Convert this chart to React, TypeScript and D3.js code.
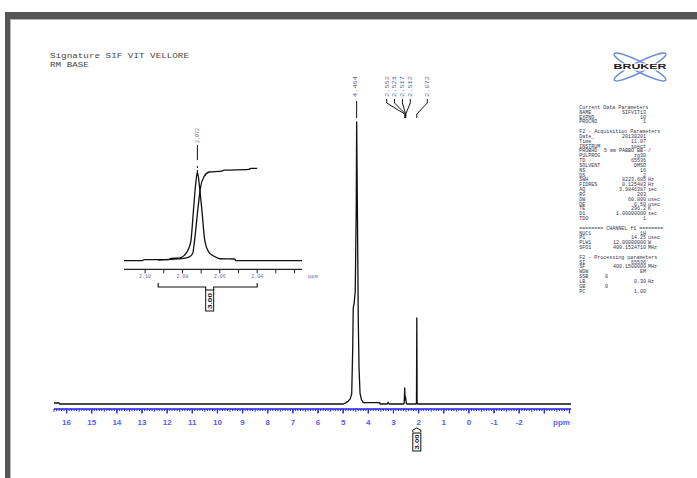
import React from "react";
import * as d3 from "d3";

const W = 697;
const H = 478;

// 1H spectrum trace: chemical shift (ppm) and relative intensity (tallest peak = 100)
const specPpm = [
  16.5, 16.3, 16.28, 5.0, 4.9, 4.8, 4.72, 4.66, 4.62, 4.6, 4.56, 4.52, 4.48, 4.464, 4.44, 4.4,
  4.37, 4.33, 4.27, 4.2, 3.55, 3.53, 3.25, 3.21, 3.17, 2.6, 2.575, 2.552, 2.54, 2.521, 2.517,
  2.512, 2.49, 2.47, 2.1, 2.085, 2.072, 2.06, 2.04, -4.06,
];
const specInt = [
  0.35, 0.35, 0, 0, 0.4, 1.0, 1.8, 3.6, 20, 34, 36, 40, 70, 100, 75, 30,
  13, 3.8, 1.5, 0.5, 0.5, 0, 0, 0.6, 0, 0, 0.3, 5.7, 1.5, 2.6, 2.4,
  2.0, 0.3, 0, 0, 0.5, 30.5, 0.5, 0, 0,
];

// expanded region around the 2.07 ppm singlet
const insetPpm = [
  2.1113, 2.1016, 2.1005, 2.0875, 2.086, 2.082, 2.079, 2.077, 2.0755, 2.0741, 2.073, 2.072,
  2.0708, 2.0696, 2.068, 2.066, 2.063, 2.06, 2.052, 2.0515, 2.016,
];
const insetInt = [
  0, 0, 1.2, 1.2, 2.5, 3, 6, 12, 22, 57, 85, 100, 82, 57, 22, 10, 5, 2.2, 1.9, 0, 0,
];

// running integral over the expanded singlet
const integPpm = [
  2.093, 2.082, 2.0765, 2.0745, 2.0737, 2.0718, 2.0703, 2.0684, 2.0657, 2.0589, 2.0578, 2.0444,
  2.0434, 2.04,
];
const integVal = [0.8, 2, 4, 8.3, 19.6, 57, 83, 95, 100, 101, 102, 103, 104, 104];
const integRange = [2.093, 2.04];
const integLabel = "3.00";

// peak pick labels
const peakPpm = [4.464, 2.552, 2.521, 2.517, 2.512, 2.072];
const peakText = ["4.464", "2.552", "2.521", "2.517", "2.512", "2.072"];

// axis ticks
const mainTickValues = d3.range(-4, 17);
const mainTickLabels = [16, 15, 14, 13, 12, 11, 10, 9, 8, 7, 6, 5, 4, 3, 2, 1, 0, -1, -2];
const insetTickValues = [2.1, 2.09, 2.08, 2.07, 2.06, 2.05, 2.04, 2.03, 2.02];
const insetTickLabels = ["2.10", "2.08", "2.06", "2.04"];

const headerLines = ["Signature SIF VIT VELLORE", "RM BASE"];

// acquisition / processing parameter listing
const paramLabels = [
  "Current Data Parameters", "NAME", "EXPNO", "PROCNO", "",
  "F2 - Acquisition Parameters", "Date_", "Time", "INSTRUM", "PROBHD", "PULPROG", "TD",
  "SOLVENT", "NS", "DS", "SWH", "FIDRES", "AQ", "RG", "DW", "DE", "TE", "D1", "TD0", "",
  "======== CHANNEL f1 ========", "NUC1", "P1", "PLW1", "SFO1", "",
  "F2 - Processing parameters", "SI", "SF", "WDW", "SSB", "LB", "GB", "PC",
];
const paramValues = [
  "", "SIFVIT13", "10", "1", "",
  "", "20130201", "11.07", "spect", "5 mm PABBO BB-", "zg30", "65536",
  "DMSO", "16", "2", "8223.685", "0.125483", "3.9846387", "203", "60.800", "6.50", "296.2", "1.00000000", "1", "",
  "", "1H", "14.25", "12.00000000", "400.1524710", "",
  "", "65536", "400.1500000", "EM", "0", "0.30", "0", "1.00",
];
const paramUnits = [
  "", "", "", "", "",
  "", "", "", "", "/", "", "",
  "", "", "", "Hz", "Hz", "sec", "", "usec", "usec", "K", "sec", "", "",
  "", "", "usec", "W", "MHz", "",
  "", "", "MHz", "", "", "Hz", "", "",
];
const leftValueRows = ["SSB", "GB"];

const MONO = "'Liberation Mono', 'DejaVu Sans Mono', monospace";
const SANS = "'Liberation Sans', Arial, sans-serif";

function IntegralTag({ cx, top, label }: { cx: number; top: number; label: string }) {
  return (
    <g>
      <path
        d={`M${cx - 4},${top + 3} L${cx - 4},${top + 1} L${cx},${top - 1} L${cx + 4},${top + 1} L${cx + 4},${top + 3}`}
        fill="none"
        stroke="#111"
        strokeWidth={1}
      />
      <rect x={cx - 4} y={top + 4} width={8} height={18} fill="#fff" stroke="#111" strokeWidth={1} />
      <text
        transform={`translate(${cx + 2},${top + 20.5}) rotate(-90)`}
        fontFamily={SANS}
        fontSize={6}
        fontWeight="bold"
        fill="#111"
        textLength={15}
        lengthAdjust="spacingAndGlyphs"
      >
        {label}
      </text>
    </g>
  );
}

export default function App() {
  // main spectrum scales
  const x = d3.scaleLinear().domain([16.5, -4.06]).range([54, 571]);
  const y = d3.scaleLinear().domain([0, 100]).range([404, 122]);
  const specLine = d3
    .line<number>()
    .x((_, i) => x(specPpm[i]))
    .y((d) => y(d));

  // inset scales
  const xi = d3.scaleLinear().domain([2.1113, 2.016]).range([124, 302]);
  const yi = d3.scaleLinear().domain([0, 100]).range([260.7, 172]);
  const insetLine = d3
    .line<number>()
    .x((_, i) => xi(insetPpm[i]))
    .y((d) => yi(d))
    .curve(d3.curveMonotoneX);
  const integLine = d3
    .line<number>()
    .x((_, i) => xi(integPpm[i]))
    .y((d) => yi(d))
    .curve(d3.curveMonotoneX);

  const axisY = 409;
  const minorTicks = d3.range(Math.ceil(-4.06 * 10), Math.floor(16.5 * 10) + 1).map((v) => v / 10);

  // label slots along the top of the plot
  const slotX = [x(4.464) - 1, 386.7, 394.5, 402.4, 410.3, 427.3];

  const inAxisY = 269.3;
  const ix0 = xi(integRange[0]);
  const ix1 = xi(integRange[1]);
  const ixm = (ix0 + ix1) / 2 + 2;

  return (
    <svg
      width={W}
      height={H}
      viewBox={`0 0 ${W} ${H}`}
      style={{ position: "absolute", left: 0, top: 0, background: "#fff" }}
    >
      <rect x={0} y={0} width={W} height={H} fill="#fff" />
      {/* page frame */}
      <rect x={5} y={12} width={W - 5} height={7} fill="#565656" />
      <rect x={5} y={12} width={5} height={H - 12} fill="#565656" />
      <path d={`M10,19.5 H${W} M10.5,19.5 V${H}`} stroke="#b5b5b5" strokeWidth={1} fill="none" />

      {/* title */}
      {headerLines.map((t, i) => (
        <text
          key={t}
          x={50}
          y={57.5 + i * 9.8}
          fontFamily={MONO}
          fontSize={7.6}
          fill="#4a4a4a"
          textLength={t.length * 5.56}
          lengthAdjust="spacingAndGlyphs"
        >
          {t}
        </text>
      ))}

      {/* logo */}
      <g transform="translate(640,67)">
        <ellipse rx={29} ry={5} transform="rotate(27)" fill="none" stroke="#7091d8" strokeWidth={1.6} />
        <ellipse rx={29} ry={5} transform="rotate(-27)" fill="none" stroke="#7091d8" strokeWidth={1.6} />
        <rect x={-27} y={-3.5} width={54} height={7} fill="#fff" />
        <text
          x={-26.5}
          y={2.4}
          fontFamily={SANS}
          fontSize={6.8}
          fontWeight={900}
          fill="#222"
          textLength={53}
          lengthAdjust="spacingAndGlyphs"
        >
          BRUKER
        </text>
      </g>

      {/* parameter listing */}
      <g fontFamily={MONO} fontSize={5} fill="#35364a">
        {paramLabels.map((lab, i) => {
          const yy = 109 + i * 4.83;
          if (!lab) return null;
          const v = paramValues[i];
          const u = paramUnits[i];
          const leftVal = leftValueRows.includes(lab);
          return (
            <g key={i}>
              <text x={579.3} y={yy}>
                {lab}
              </text>
              {v && (
                <text x={leftVal ? 605 : 646} y={yy} textAnchor={leftVal ? "start" : "end"}>
                  {v}
                </text>
              )}
              {u && (
                <text x={648} y={yy}>
                  {u}
                </text>
              )}
            </g>
          );
        })}
      </g>

      {/* peak labels with leader lines */}
      {peakPpm.map((p, i) => {
        const sx = slotX[i];
        const px = x(p);
        return (
          <g key={i}>
            <text
              transform={`translate(${sx + 1.8},97) rotate(-90)`}
              fontFamily={MONO}
              fontSize={5.2}
              fill="#5e6894"
              textLength={21}
              lengthAdjust="spacingAndGlyphs"
            >
              {peakText[i]}
            </text>
            <path
              d={
                Math.abs(sx - px) < 2
                  ? `M${px},101 V118`
                  : `M${sx},99 V103 L${px},114 V118`
              }
              fill="none"
              stroke="#111"
              strokeWidth={1}
            />
          </g>
        );
      })}

      {/* main spectrum */}
      <path d={specLine(specInt) ?? ""} fill="none" stroke="#111" strokeWidth={1.3} strokeLinejoin="round" />

      {/* main ppm axis */}
      <line x1={54} x2={571} y1={axisY} y2={axisY} stroke="#1c1cf0" strokeWidth={1.6} />
      {minorTicks.map((t) => {
        const k = Math.round(t * 10);
        const len = k % 10 === 0 ? 4 : k % 5 === 0 ? 2.8 : 2;
        return (
          <line key={k} x1={x(t)} x2={x(t)} y1={axisY} y2={axisY + len} stroke="#2a2af0" strokeWidth={1} />
        );
      })}
      {mainTickValues.map((t) => (
        <line key={`M${t}`} x1={x(t)} x2={x(t)} y1={axisY} y2={axisY + 4.5} stroke="#2a2af0" strokeWidth={1.3} />
      ))}
      {mainTickLabels.map((t) => (
        <text
          key={`L${t}`}
          x={x(t)}
          y={425}
          textAnchor="middle"
          fontFamily={SANS}
          fontSize={8}
          fontWeight="bold"
          fill="#5a5aff"
        >
          {t}
        </text>
      ))}
      <text x={561.5} y={425} textAnchor="middle" fontFamily={SANS} fontSize={8} fontWeight="bold" fill="#5a5aff">
        ppm
      </text>
      <IntegralTag cx={x(2.072)} top={429} label={integLabel} />

      {/* expansion */}
      <path d={insetLine(insetInt) ?? ""} fill="none" stroke="#111" strokeWidth={1.3} />
      <path d={integLine(integVal) ?? ""} fill="none" stroke="#111" strokeWidth={1.3} />
      <text
        transform={`translate(${xi(2.072) + 1.8},143) rotate(-90)`}
        fontFamily={MONO}
        fontSize={5}
        fill="#5e6894"
        textLength={15}
        lengthAdjust="spacingAndGlyphs"
      >
        {peakText[5]}
      </text>
      <line x1={xi(2.072)} x2={xi(2.072)} y1={145} y2={160} stroke="#111" strokeWidth={1} />
      <line x1={xi(2.072)} x2={xi(2.072)} y1={166} y2={176} stroke="#111" strokeWidth={1} strokeDasharray="2 2" />
      <line x1={124} x2={302} y1={inAxisY} y2={inAxisY} stroke="#222" strokeWidth={1.2} />
      {insetTickValues.map((t) => (
        <line key={t} x1={xi(t)} x2={xi(t)} y1={inAxisY} y2={inAxisY + 4} stroke="#222" strokeWidth={1} />
      ))}
      {insetTickLabels.map((t) => (
        <text key={t} x={xi(+t)} y={277.5} textAnchor="middle" fontFamily={MONO} fontSize={5} fill="#6f6c98">
          {t}
        </text>
      ))}
      <text x={313} y={278} textAnchor="middle" fontFamily={MONO} fontSize={5.5} fill="#6f6c98">
        ppm
      </text>
      {/* integral range bracket */}
      <path
        d={`M${ix0},283 V287 H${ixm - 4} V290 M${ix1},283 V287 H${ixm + 4} V290`}
        fill="none"
        stroke="#111"
        strokeWidth={1.1}
      />
      <rect x={ixm - 4} y={290} width={8} height={21} fill="#fff" stroke="#111" strokeWidth={1} />
      <text
        transform={`translate(${ixm + 2},309) rotate(-90)`}
        fontFamily={SANS}
        fontSize={6}
        fontWeight="bold"
        fill="#111"
        textLength={16}
        lengthAdjust="spacingAndGlyphs"
      >
        {integLabel}
      </text>
    </svg>
  );
}
